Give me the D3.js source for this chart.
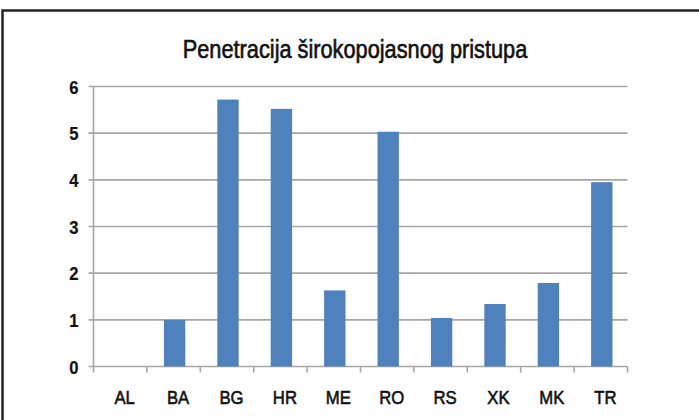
<!DOCTYPE html>
<html>
<head>
<meta charset="utf-8">
<script src="https://cdn.jsdelivr.net/npm/d3@7"></script>
<style>
  html, body { margin: 0; padding: 0; background: #fff; }
  svg { display: block; }
  text { font-family: 'Liberation Sans', Arial, sans-serif; fill: #111; stroke: #111; }
</style>
</head>
<body>
<svg class="canvas" width="699" height="420"></svg>
<script>
const countries = ['AL', 'BA', 'BG', 'HR', 'ME', 'RO', 'RS', 'XK', 'MK', 'TR'];
const penetration = [0, 1.0, 5.72, 5.52, 1.63, 5.03, 1.04, 1.34, 1.79, 3.95];
const yTicks = [0, 1, 2, 3, 4, 5, 6];
const title = 'Penetracija širokopojasnog pristupa';

const plot = { left: 93.5, right: 627.5, top: 86.5, bottom: 366.5 };

const svg = d3.select('.canvas');

// outer frame, runs off the right and bottom edge like the source
svg.append('rect')
  .attr('x', 2.5).attr('y', 10.5)
  .attr('width', 720).attr('height', 440)
  .attr('fill', 'none').attr('stroke', '#222').attr('stroke-width', 2.5);

const x = d3.scaleBand(countries, [plot.left, plot.right])
  .paddingInner(0.6).paddingOuter(0.3);
const xEdge = d3.scaleBand(countries, [plot.left, plot.right]);
const y = d3.scaleLinear([0, 6], [plot.bottom, plot.top]);

// gridlines
svg.append('g')
  .selectAll('line')
  .data(yTicks)
  .join('line')
  .attr('x1', plot.left - 5).attr('x2', plot.right)
  .attr('y1', d => y(d)).attr('y2', d => y(d))
  .attr('stroke', '#a6a6a6').attr('stroke-width', 1.6);

// axis lines + category ticks
svg.append('line')
  .attr('x1', plot.left).attr('x2', plot.left)
  .attr('y1', plot.top).attr('y2', plot.bottom)
  .attr('stroke', '#a6a6a6').attr('stroke-width', 1.6);

const edges = countries.map(c => xEdge(c)).concat([plot.right]);
svg.append('g')
  .selectAll('line')
  .data(edges)
  .join('line')
  .attr('x1', d => d).attr('x2', d => d)
  .attr('y1', plot.bottom).attr('y2', plot.bottom + 6)
  .attr('stroke', '#a6a6a6').attr('stroke-width', 1.6);

// bars
svg.append('g')
  .selectAll('rect')
  .data(countries)
  .join('rect')
  .attr('x', d => x(d) + 1)
  .attr('width', x.bandwidth())
  .attr('y', (d, i) => y(penetration[i]))
  .attr('height', (d, i) => y(0) - y(penetration[i]))
  .attr('fill', '#4f81bd');

// y labels
svg.append('g')
  .selectAll('text')
  .data(yTicks)
  .join('text')
  .attr('transform', d => `translate(78.5, ${y(d) + 7}) scale(0.95, 1)`)
  .attr('text-anchor', 'end')
  .attr('font-size', 17.5)
  .attr('font-weight', 'bold')
  .attr('stroke-width', 0.2)
  .text(d => d);

// x labels
svg.append('g')
  .selectAll('text')
  .data(countries)
  .join('text')
  .attr('transform', d =>
    `translate(${xEdge(d) + xEdge.bandwidth() / 2 + 4.5}, 404) scale(0.88, 1)`)
  .attr('text-anchor', 'middle')
  .attr('font-size', 19)
  .attr('stroke-width', 0.6)
  .text(d => d);

// title
svg.append('text')
  .attr('transform', `translate(355, 58) scale(0.87, 1)`)
  .attr('text-anchor', 'middle')
  .attr('font-size', 25)
  .attr('stroke-width', 0.6)
  .text(title);
</script>
</body>
</html>
